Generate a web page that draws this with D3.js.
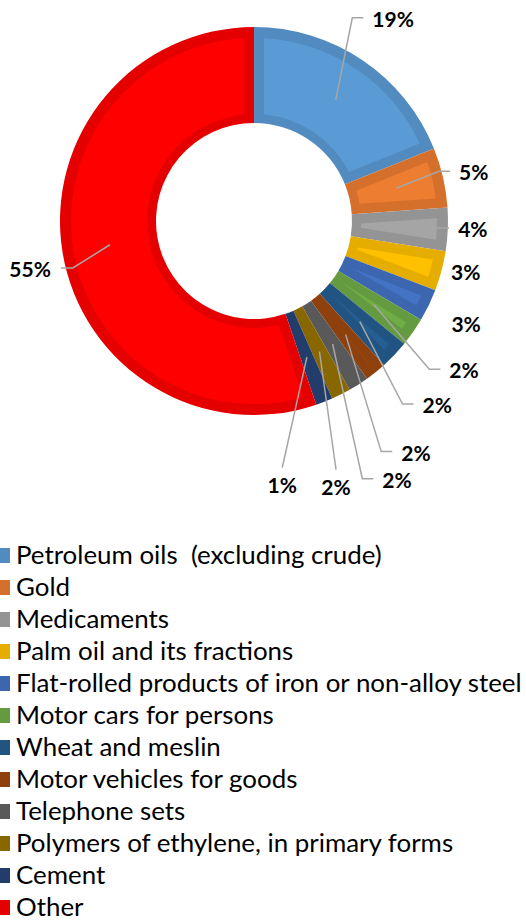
<!DOCTYPE html>
<head>
<meta charset="utf-8">
<title>Export structure</title>
<style>
  body { margin: 0; background: #fff; }
  .pct { font: bold 21px Lato, "Open Sans", sans-serif; fill: #000; }
  .leg { font: 22px Lato, "Open Sans", sans-serif; fill: #000; white-space: pre; }
  .leader { stroke: #a6a6a6; stroke-width: 1.5; fill: none; }
</style>
</head>
<body>
<script src="https://cdn.jsdelivr.net/npm/d3@7"></script>
<script>

var categories = ["Petroleum oils  (excluding crude)", "Gold", "Medicaments", "Palm oil and its fractions",
  "Flat-rolled products of iron or non-alloy steel", "Motor cars for persons", "Wheat and meslin",
  "Motor vehicles for goods", "Telephone sets", "Polymers of ethylene, in primary forms", "Cement", "Other"];
var values = [18.9, 5.0, 3.6, 3.3, 2.7, 2.4, 2.4, 1.8, 1.7, 1.6, 1.4, 55.2];
var colors = ["#5B9BD5", "#ED7D31", "#A5A5A5", "#FFC000", "#4472C4", "#70AD47", "#255E91",
  "#9E480E", "#636363", "#997300", "#264478", "#FF0000"];

// label placement: [angle in degrees clockwise from top, radius, leader type]
var labelLayout = [[34.6, 245, "h"], [77.6, 225, "h"], [92.2, 219, "h"], [103.7, 218, ""],
  [116.0, 236, ""], [125.5, 258, "h"], [135.2, 260, "h"], [145.1, 283, "h"],
  [151.1, 296, "h"], [162.9, 279, "v"], [173.9, 266, "v"], [257.9, 229, "h"]];

var width = 526, height = 922;
var cx = 254, cy = 221, rOut = 194, rIn = 98;

var svg = d3.select("body").append("svg")
  .attr("width", width)
  .attr("height", height);

var pie = d3.pie().sort(null).value(function(d) { return d; });
var arcs = pie(values);

var arc = d3.arc().innerRadius(rIn).outerRadius(rOut);
var inset = d3.arc().innerRadius(rIn + 9).outerRadius(rOut - 11)
  .padRadius(rOut).padAngle(2 * Math.asin(10 / rOut));

var g = svg.append("g").attr("transform", "translate(" + cx + "," + cy + ")");

g.selectAll(".outer")
  .data(arcs)
  .enter().append("path")
  .attr("d", arc)
  .attr("fill", function(d, i) { return d3.color(colors[i]).darker(0.3); });

g.selectAll(".inner")
  .data(arcs)
  .enter().append("path")
  .attr("d", inset)
  .attr("fill", function(d, i) { return colors[i]; });

// labels + leader lines
function polar(a, r) {
  var t = a * Math.PI / 180;
  return [r * Math.sin(t), -r * Math.cos(t)];
}

arcs.forEach(function(d, i) {
  var lay = labelLayout[i];
  var p = polar(lay[0], lay[1]);
  var txt = g.append("text")
    .attr("class", "pct")
    .attr("x", p[0])
    .attr("y", p[1] + 7.5)
    .attr("text-anchor", "middle")
    .text(Math.round(d.value) + "%");
  if (!lay[2]) return;
  var bb = txt.node().getBBox();
  var mid = (d.startAngle + d.endAngle) / 2 * 180 / Math.PI;
  var c = polar(mid, (rIn + rOut) / 2);
  var pts;
  if (lay[2] == "v") {
    pts = [c, [p[0], p[1] - 18]];
  } else if (p[0] > 0) {
    var left = bb.x;
    pts = [c, [left - 20, p[1] - 1.5], [left - 9, p[1] - 1.5]];
  } else {
    var right = bb.x + bb.width;
    pts = [c, [right + 22, p[1] - 1], [right + 10, p[1] - 1]];
  }
  g.append("path")
    .attr("class", "leader")
    .attr("d", d3.line()(pts));
});

// legend
var y = d3.scalePoint().domain(categories).range([556, 908]);

var leg = svg.selectAll(".legrow")
  .data(categories)
  .enter().append("g")
  .attr("transform", function(d) { return "translate(0," + y(d) + ")"; });

leg.append("rect")
  .attr("x", -5)
  .attr("y", -8)
  .attr("width", 15)
  .attr("height", 15)
  .attr("fill", function(d, i) { return d3.color(colors[i]).darker(0.3); });

var legText = leg.append("text")
  .attr("class", "leg")
  .attr("x", 16)
  .attr("y", 7.5)
  .text(function(d) { return d; });

// fit the longest entry to the width seen in the original
var longest = d3.max(legText.nodes(), function(n) { return n.getComputedTextLength(); });
legText.style("font-size", (22 * 506 / longest) + "px");

</script>
</body>
